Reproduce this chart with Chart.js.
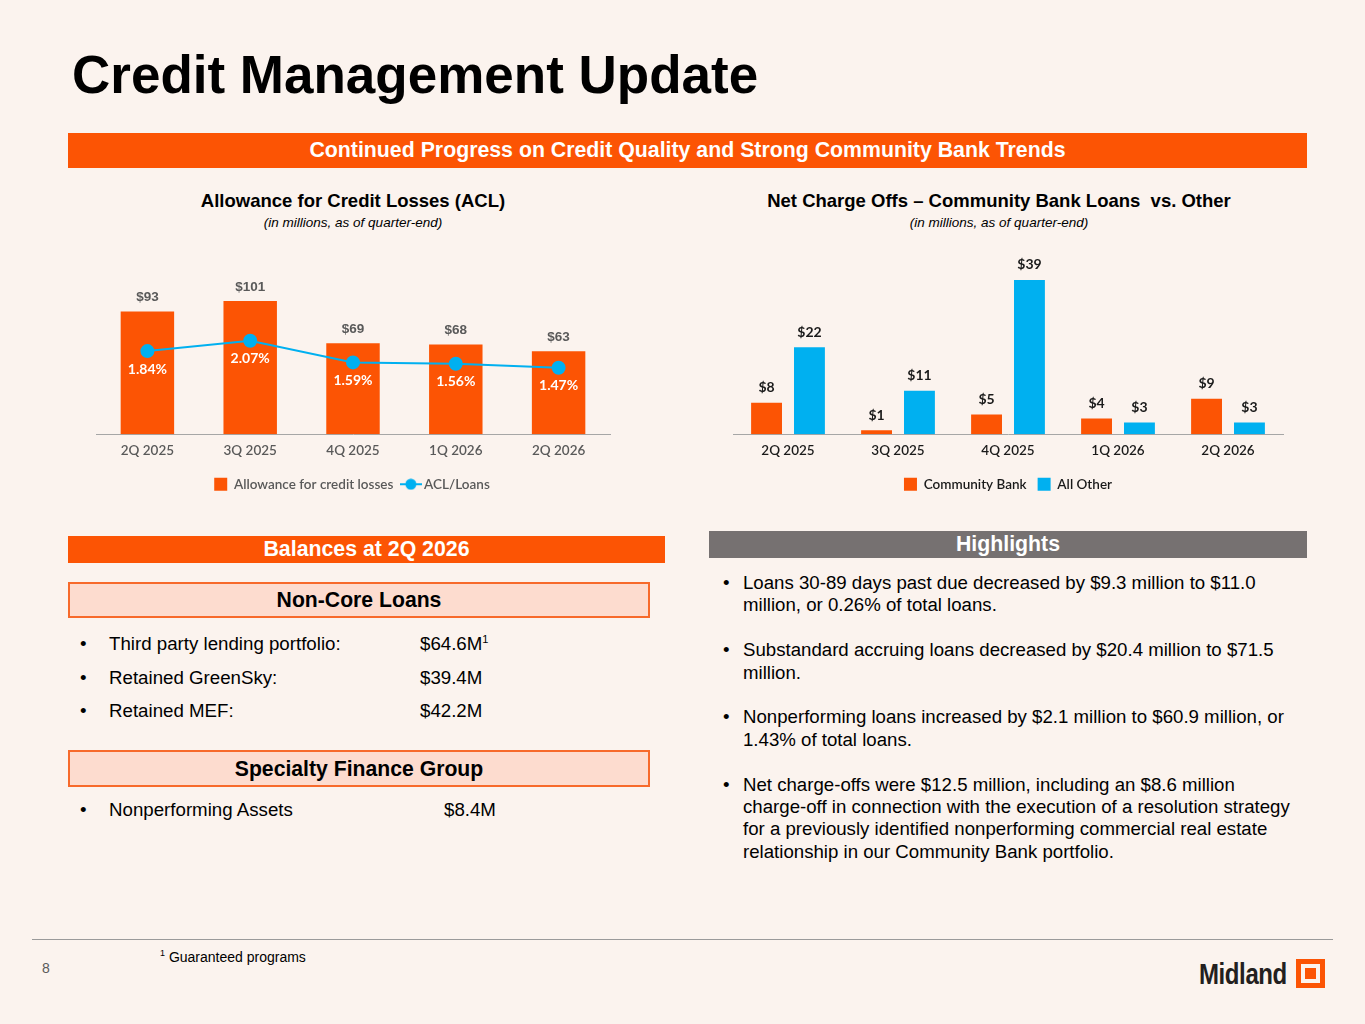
<!DOCTYPE html>
<html>
<head>
<meta charset="utf-8">
<script src="https://cdn.jsdelivr.net/npm/chart.js@4.4.1/dist/chart.umd.min.js"></script>
<style>
  body{margin:0;background:#fbf3ee;font-family:"Liberation Sans",Arial,sans-serif;color:#000;}
  #page{position:relative;width:1365px;height:1024px;overflow:hidden;background:#fbf3ee;}
  .abs{position:absolute;}
  .title{left:72px;top:49px;font-size:53px;line-height:52px;font-weight:bold;}
  .band{display:flex;align-items:center;justify-content:center;color:#fff;font-weight:bold;font-size:21.3px;}
  .orange{background:#fc5404;}
  .grey{background:#767171;}
  .ctitle{font-size:18.5px;font-weight:bold;line-height:24px;text-align:center;}
  .csub{font-size:13.5px;font-style:italic;line-height:18px;text-align:center;}
  .box{box-sizing:border-box;border:2px solid #f76a2b;background:#fddccf;display:flex;align-items:center;justify-content:center;font-weight:bold;font-size:21.2px;}
  .row{font-size:18.7px;line-height:24px;white-space:nowrap;}
  .row sup{font-size:11px;vertical-align:7px;line-height:0;}
  .hl{left:723px;top:572px;width:620px;font-size:18.65px;line-height:22.4px;}
  .hl p{margin:0 0 22.4px 0;padding-left:20px;position:relative;}
  .hl p::before{content:"•";position:absolute;left:0;}
  .chart{position:absolute;}
</style>
</head>
<body>
<div id="page">
  <div class="abs title">Credit Management Update</div>
  <div class="abs band orange" style="left:68px;top:133px;width:1239px;height:35px;">Continued Progress on Credit Quality and Strong Community Bank Trends</div>

  <div class="abs ctitle" style="left:103px;top:189px;width:500px;">Allowance for Credit Losses (ACL)</div>
  <div class="abs csub" style="left:103px;top:214px;width:500px;">(in millions, as of quarter-end)</div>
  <div class="abs ctitle" style="left:699px;top:189px;width:600px;">Net Charge Offs – Community Bank Loans&nbsp; vs. Other</div>
  <div class="abs csub" style="left:699px;top:214px;width:600px;">(in millions, as of quarter-end)</div>

  <div class="chart" style="left:88px;top:248px;width:530px;height:260px;"><canvas id="aclChart"></canvas></div>
  <div class="chart" style="left:728px;top:248px;width:560px;height:260px;"><canvas id="ncoChart"></canvas></div>

  <div class="abs band orange" style="left:68px;top:536px;width:597px;height:27px;">Balances at 2Q 2026</div>
  <div class="abs band grey" style="left:709px;top:531px;width:598px;height:27px;">Highlights</div>

  <div class="abs box" style="left:68px;top:582px;width:582px;height:36px;">Non-Core Loans</div>
  <div class="abs row" style="left:80px;top:632px;">•</div>
  <div class="abs row" style="left:109px;top:632px;">Third party lending portfolio:</div>
  <div class="abs row" style="left:420px;top:632px;">$64.6M<sup>1</sup></div>
  <div class="abs row" style="left:80px;top:666px;">•</div>
  <div class="abs row" style="left:109px;top:666px;">Retained GreenSky:</div>
  <div class="abs row" style="left:420px;top:666px;">$39.4M</div>
  <div class="abs row" style="left:80px;top:699px;">•</div>
  <div class="abs row" style="left:109px;top:699px;">Retained MEF:</div>
  <div class="abs row" style="left:420px;top:699px;">$42.2M</div>

  <div class="abs box" style="left:68px;top:750px;width:582px;height:37px;">Specialty Finance Group</div>
  <div class="abs row" style="left:80px;top:798px;">•</div>
  <div class="abs row" style="left:109px;top:798px;">Nonperforming Assets</div>
  <div class="abs row" style="left:444px;top:798px;">$8.4M</div>

  <div class="abs hl">
    <p>Loans 30-89 days past due decreased by $9.3 million to $11.0<br>million, or 0.26% of total loans.</p>
    <p>Substandard accruing loans decreased by $20.4 million to $71.5<br>million.</p>
    <p>Nonperforming loans increased by $2.1 million to $60.9 million, or<br>1.43% of total loans.</p>
    <p>Net charge-offs were $12.5 million, including an $8.6 million<br>charge-off in connection with the execution of a resolution strategy<br>for a previously identified nonperforming commercial real estate<br>relationship in our Community Bank portfolio.</p>
  </div>

  <div class="abs" style="left:32px;top:939px;width:1301px;height:1px;background:#9a9a9a;"></div>
  <div class="abs" style="left:42px;top:959px;font-size:14px;line-height:18px;color:#595959;">8</div>
  <div class="abs" style="left:160px;top:944px;font-size:14px;line-height:18px;"><sup style="font-size:9px;">1</sup> Guaranteed programs</div>

  <div class="abs" style="left:1199px;top:957px;font-size:30px;line-height:34px;font-weight:bold;color:#231f20;transform:scaleX(0.8);transform-origin:left;letter-spacing:-0.5px;">Midland</div>
  <div class="abs" style="left:1296px;top:959px;width:29px;height:29px;background:#fc5404;"></div>
  <div class="abs" style="left:1301px;top:964px;width:19px;height:19px;background:#fbf3ee;"></div>
  <div class="abs" style="left:1305px;top:968px;width:11px;height:11px;background:#fc5404;"></div>
</div>

<script>
// data
const quarters = ['2Q 2025', '3Q 2025', '4Q 2025', '1Q 2026', '2Q 2026']
const aclValues = [93, 101, 69, 68, 63]
const aclRatio = [1.84, 2.07, 1.59, 1.56, 1.47]
const communityBank = [8, 1, 5, 4, 9]
const allOther = [22, 11, 39, 3, 3]

const ORANGE = '#fc5404'
const BLUE = '#00b0f0'

// draws the value labels above/below each mark
const valueLabels = {
  id: 'valueLabels',
  afterDatasetsDraw(chart) {
    const ctx = chart.ctx
    chart.data.datasets.forEach((ds, i) => {
      const lab = ds.valueLabel
      if (!lab) return
      const meta = chart.getDatasetMeta(i)
      ctx.save()
      ctx.font = lab.font
      ctx.fillStyle = lab.color
      ctx.textAlign = 'center'
      ctx.textBaseline = 'middle'
      meta.data.forEach((el, j) => {
        ctx.fillText(lab.format(ds.data[j]), el.x, el.y + lab.offset)
      })
      ctx.restore()
    })
  }
}

// legend icon for the line series: short line with a dot
function lineIcon() {
  const c = document.createElement('canvas')
  c.width = 22
  c.height = 12
  const g = c.getContext('2d')
  g.strokeStyle = BLUE
  g.lineWidth = 2
  g.beginPath()
  g.moveTo(0, 6)
  g.lineTo(22, 6)
  g.stroke()
  g.fillStyle = BLUE
  g.beginPath()
  g.arc(11, 6, 5.5, 0, Math.PI * 2)
  g.fill()
  return c
}

function legendItems(chart) {
  const items = Chart.defaults.plugins.legend.labels.generateLabels(chart)
  items.forEach(it => {
    const ds = chart.data.datasets[it.datasetIndex]
    it.pointStyle = ds.type === 'line' ? lineIcon() : 'rect'
    it.lineWidth = 0
    it.strokeStyle = 'rgba(0,0,0,0)'
  })
  return items
}

const legendFont = {family: 'Lato', size: 13.5, weight: '600'}

// ACL chart
new Chart(document.getElementById('aclChart'), {
  type: 'bar',
  data: {
    labels: quarters,
    datasets: [{
      label: 'Allowance for credit losses',
      data: aclValues,
      backgroundColor: ORANGE,
      yAxisID: 'y',
      order: 2,
      barPercentage: 0.52,
      categoryPercentage: 1,
      valueLabel: {font: 'bold 13.5px "Liberation Sans", Arial', color: '#595959', offset: -14, format: v => '$' + v}
    }, {
      type: 'line',
      label: 'ACL/Loans',
      data: aclRatio,
      borderColor: BLUE,
      backgroundColor: BLUE,
      borderWidth: 2,
      pointRadius: 6,
      pointHoverRadius: 6,
      yAxisID: 'y2',
      order: 1,
      valueLabel: {font: 'bold 14px Lato', color: '#ffffff', offset: 18, format: v => v.toFixed(2) + '%'}
    }]
  },
  options: {
    responsive: true,
    maintainAspectRatio: false,
    animation: false,
    layout: {padding: {left: 4, right: 6, top: 28, bottom: 7}},
    scales: {
      x: {
        grid: {display: false, drawTicks: false},
        border: {display: true, color: '#a6a6a6', width: 1},
        ticks: {padding: 8, color: '#595959', font: legendFont}
      },
      y: {display: false, min: 0, max: 120},
      y2: {display: false, min: 0, max: 3.5}
    },
    plugins: {
      tooltip: {enabled: false},
      legend: {
        position: 'bottom',
        labels: {
          usePointStyle: true,
          boxWidth: 13,
          boxHeight: 13,
          padding: 11,
          color: '#595959',
          font: legendFont,
          generateLabels: legendItems,
          sort: (a, b) => a.datasetIndex - b.datasetIndex
        }
      }
    }
  },
  plugins: [valueLabels]
})

// Net charge offs chart
new Chart(document.getElementById('ncoChart'), {
  type: 'bar',
  data: {
    labels: quarters,
    datasets: [{
      label: 'Community Bank',
      data: communityBank,
      backgroundColor: ORANGE,
      barPercentage: 0.72,
      categoryPercentage: 0.78,
      valueLabel: {font: 'bold 14px Lato', color: '#1a1a1a', offset: -15, format: v => '$' + v}
    }, {
      label: 'All Other',
      data: allOther,
      backgroundColor: BLUE,
      barPercentage: 0.72,
      categoryPercentage: 0.78,
      valueLabel: {font: 'bold 14px Lato', color: '#1a1a1a', offset: -15, format: v => '$' + v}
    }]
  },
  options: {
    responsive: true,
    maintainAspectRatio: false,
    animation: false,
    layout: {padding: {left: 5, right: 5, top: 28, bottom: 7}},
    scales: {
      x: {
        grid: {display: false, drawTicks: false},
        border: {display: true, color: '#a6a6a6', width: 1},
        ticks: {padding: 8, color: '#1a1a1a', font: legendFont}
      },
      y: {display: false, min: 0, max: 40}
    },
    plugins: {
      tooltip: {enabled: false},
      legend: {
        position: 'bottom',
        labels: {
          usePointStyle: true,
          boxWidth: 13,
          boxHeight: 13,
          padding: 11,
          color: '#1a1a1a',
          font: legendFont,
          generateLabels: legendItems
        }
      }
    }
  },
  plugins: [valueLabels]
})
</script>
</body>
</html>
